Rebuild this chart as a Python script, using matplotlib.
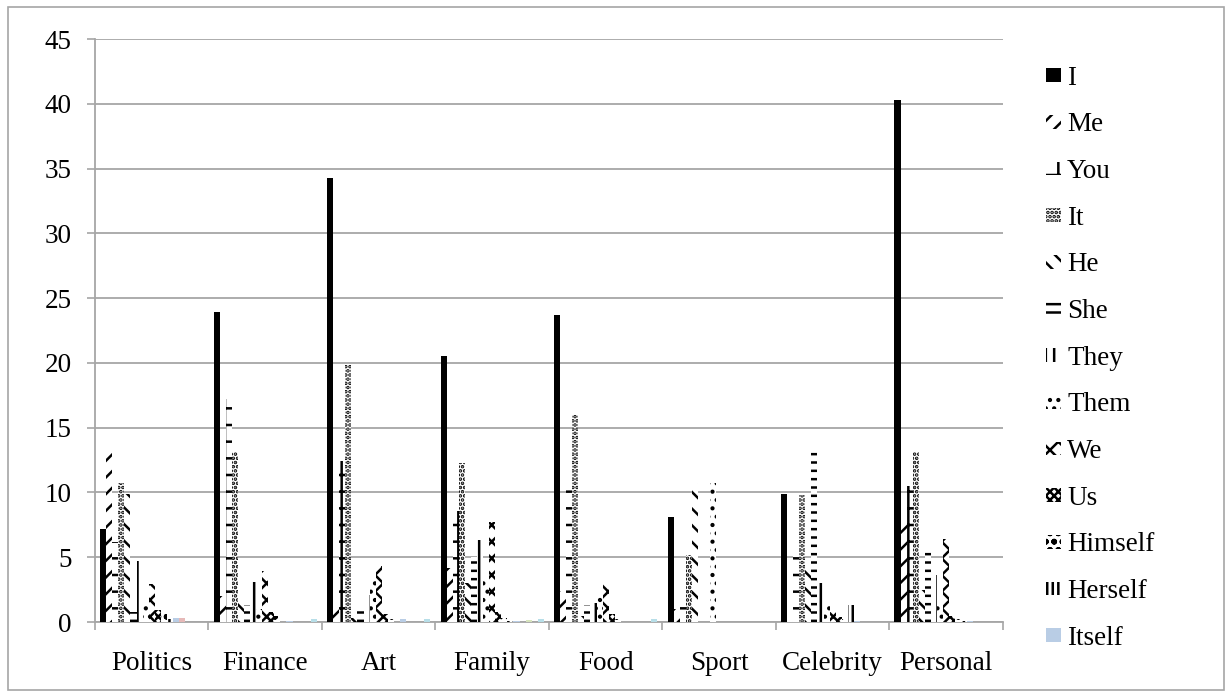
import matplotlib
matplotlib.use("Agg")
from matplotlib import pyplot as plt
from matplotlib.patches import Rectangle
import numpy as np

# categories and pronoun counts per category
categories = ["Politics", "Finance", "Art", "Family", "Food", "Sport", "Celebrity", "Personal"]

I_vals       = [7.2, 23.9, 34.3, 20.5, 23.7, 8.1, 9.9, 40.3]
Me_vals      = [13.6, 2.0, 1.0, 4.2, 2.4, 1.0, 0.4, 7.8]
You_vals     = [6.2, 17.2, 12.4, 8.6, 11.2, 2.1, 5.2, 10.5]
It_vals      = [10.7, 13.1, 19.8, 12.3, 16.0, 5.2, 9.8, 13.1]
He_vals      = [9.9, 1.6, 0.3, 3.0, 0.5, 10.7, 4.4, 2.5]
She_vals     = [0.8, 1.3, 1.2, 5.0, 1.3, 0.0, 13.2, 5.5]
They_vals    = [4.7, 3.1, 2.1, 6.3, 1.5, 0.0, 3.0, 3.6]
Them_vals    = [1.5, 1.0, 3.2, 3.4, 2.0, 10.7, 1.2, 1.2]
We_vals      = [2.9, 3.9, 4.3, 7.7, 2.9, 0.0, 0.8, 6.4]
Us_vals      = [0.9, 0.8, 0.6, 0.8, 0.6, 0.0, 0.4, 0.5]
Himself_vals = [0.6, 0.5, 0.2, 0.3, 0.2, 0.0, 0.2, 0.2]
Herself_vals = [0.2, 0.0, 0.0, 0.1, 0.0, 0.0, 1.3, 0.05]
Itself_vals  = [0.3, 0.05, 0.2, 0.05, 0.0, 0.0, 0.05, 0.05]
# remaining series (not listed in legend)
s14_vals = [0.3, 0.0, 0.0, 0.0, 0.0, 0.0, 0.0, 0.0]
s15_vals = [0.0, 0.0, 0.0, 0.15, 0.0, 0.0, 0.0, 0.0]
s16_vals = [0.0, 0.0, 0.0, 0.0, 0.0, 0.0, 0.0, 0.0]
s17_vals = [0.0, 0.2, 0.2, 0.25, 0.2, 0.0, 0.0, 0.0]

# (label, values, facecolor, hatch)
series = [
    ("I", I_vals, "black", None),
    ("Me", Me_vals, "white", "//"),
    ("You", You_vals, "white", "+"),
    ("It", It_vals, "white", "...."),
    ("He", He_vals, "white", "\\\\"),
    ("She", She_vals, "white", "--"),
    ("They", They_vals, "white", "||"),
    ("Them", Them_vals, "white", ".."),
    ("We", We_vals, "white", "xx"),
    ("Us", Us_vals, "white", "xxxx"),
    ("Himself", Himself_vals, "white", "oo"),
    ("Herself", Herself_vals, "white", "|||"),
    ("Itself", Itself_vals, "#b9cde5", None),
    (None, s14_vals, "#e6b9b8", None),
    (None, s15_vals, "#d7e4bd", None),
    (None, s16_vals, "#ccc1da", None),
    (None, s17_vals, "#b7dee8", None),
]

plt.rcParams["font.family"] = ["Liberation Serif", "DejaVu Serif"]
plt.rcParams["hatch.linewidth"] = 1.8
fontsize = 19.5
grid_col = "#a6a6a6"

fig = plt.figure(figsize=(12.32, 6.97), dpi=100)
ax = fig.add_axes([0.0771, 0.1076, 0.7369, 0.8364])

n = len(series)
group = 0.91
w = group / n
x = np.arange(len(categories))
handles = []
for k, (lab, vals, fc, hatch) in enumerate(series):
    if hatch is None:
        b = ax.bar(x - group / 2 + k * w, vals, w, align="edge", color=fc, linewidth=0, zorder=3)
    else:
        b = ax.bar(x - group / 2 + k * w, vals, w, align="edge", facecolor=fc,
                   edgecolor="black", hatch=hatch, linewidth=0, zorder=3)
    if lab is not None:
        b.set_label(lab)
        handles.append(b)

ax.set_xlim(-0.5, len(categories) - 0.5)
ax.set_ylim(0, 45)
ax.set_yticks(np.arange(0, 46, 5))
ax.yaxis.grid(True, color=grid_col, lw=1.3, zorder=0)
ax.set_axisbelow(True)

ax.set_xticks(x)
ax.set_xticklabels(categories)
ax.set_xticks(np.arange(-0.5, len(categories)), minor=True)
ax.tick_params(axis="x", which="major", length=0, pad=21, labelsize=fontsize)
ax.tick_params(axis="x", which="minor", length=6, width=1.2, color=grid_col)
ax.tick_params(axis="y", length=6, width=1.2, color=grid_col, pad=11, labelsize=fontsize)

for s in ["top", "right"]:
    ax.spines[s].set_visible(False)
for s in ["left", "bottom"]:
    ax.spines[s].set_color(grid_col)
    ax.spines[s].set_linewidth(1.3)

ax.legend(handles=handles, loc="center left", bbox_to_anchor=(0.8295, 0.486),
          bbox_transform=fig.transFigure, frameon=False, fontsize=fontsize,
          handlelength=0.55, handleheight=0.4, handletextpad=0.22, labelspacing=0.80)

# outer chart border
fig.add_artist(Rectangle((8 / 1232, 7 / 697), 1216 / 1232, 683 / 697, transform=fig.transFigure,
                         fill=False, edgecolor=grid_col, lw=1.2))

plt.savefig("out.png", dpi=100)
